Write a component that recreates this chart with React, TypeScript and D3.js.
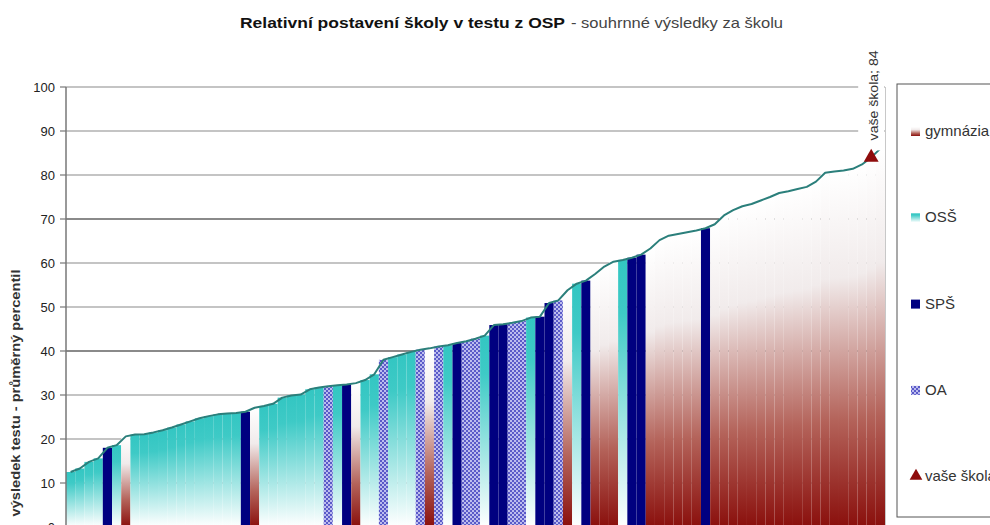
import React, { useRef, useEffect } from 'react';
import * as d3 from 'd3';

// school types in the order of the chart (sorted by score)
const schoolTypes: string[] = [
  'OSS', 'OSS', 'OSS', 'OSS', 'SPS', 'OSS', 'GYM', 'OSS', 'OSS', 'OSS',
  'OSS', 'OSS', 'OSS', 'OSS', 'OSS', 'OSS', 'OSS', 'OSS', 'OSS', 'SPS',
  'GYM', 'OSS', 'OSS', 'OSS', 'OSS', 'OSS', 'OSS', 'OSS', 'OA', 'OSS',
  'SPS', 'GYM', 'OSS', 'OSS', 'OA', 'OSS', 'OSS', 'OSS', 'OA', 'GYM',
  'OA', 'OSS', 'SPS', 'OA', 'OA', 'OSS', 'SPS', 'SPS', 'OA', 'OA',
  'OSS', 'SPS', 'SPS', 'OA', 'GYM', 'OSS', 'SPS', 'GYM', 'GYM', 'GYM',
  'OSS', 'SPS', 'SPS', 'GYM', 'GYM', 'GYM', 'GYM', 'GYM', 'GYM', 'SPS',
  'GYM', 'GYM', 'GYM', 'GYM', 'GYM', 'GYM', 'GYM', 'GYM', 'GYM', 'GYM',
  'GYM', 'GYM', 'GYM', 'GYM', 'GYM', 'GYM', 'GYM', 'GYM', 'GYM'
];

const scores: number[] = [
  12.5, 13.3, 14.8, 15.6, 18.0, 18.6, 20.6, 21.0, 21.1, 21.5,
  22.0, 22.6, 23.3, 24.0, 24.7, 25.2, 25.6, 25.8, 25.9, 26.2,
  27.1, 27.5, 28.0, 29.4, 29.9, 30.1, 31.3, 31.7, 32.0, 32.2,
  32.4, 32.7, 33.4, 34.7, 38.0, 38.6, 39.2, 39.8, 40.3, 40.6,
  41.0, 41.3, 41.8, 42.2, 42.8, 43.5, 45.9, 46.1, 46.4, 46.8,
  47.6, 47.8, 50.9, 51.5, 53.8, 55.3, 56.0, 57.5, 59.2, 60.3,
  60.7, 61.2, 61.9, 63.3, 65.2, 66.2, 66.6, 67.0, 67.4, 67.9,
  68.8, 70.8, 72.0, 72.9, 73.4, 74.2, 75.0, 75.9, 76.3, 76.8,
  77.3, 78.5, 80.5, 80.8, 81.0, 81.4, 82.4, 84.0, 86.0
];

const yourSchoolIndex = 87;
const yourSchoolLabel = 'vaše škola';

const yTicks: number[] = [0, 10, 20, 30, 40, 50, 60, 70, 80, 90, 100];
const thickGrid: number[] = [40, 70];

const legendKeys: string[] = ['GYM', 'OSS', 'SPS', 'OA', 'YOU'];
const legendLabels: string[] = ['gymnázia', 'OSŠ', 'SPŠ', 'OA', 'vaše škola'];

const titleBold = 'Relativní postavení školy v testu z OSP';
const titleRest = '- souhrnné výsledky za školu';
const yAxisTitle = 'výsledek testu - průměrný percentil';

const FONT = '"Liberation Sans", Arial, sans-serif';

const fills: Record<string, string> = {
  GYM: 'url(#grad-gym)',
  OSS: 'url(#grad-oss)',
  SPS: '#000080',
  OA: 'url(#pat-oa)'
};

const App: React.FC = () => {
  const svgRef = useRef<SVGSVGElement>(null);
  const width = 990;
  const height = 525;

  useEffect(() => {
    if (!svgRef.current) return;
    const svg = d3.select(svgRef.current);
    svg.selectAll('*').remove();

    const left = 66;
    const right = 885;
    const top = 87;
    const bottom = 527;

    const x = d3.scaleBand<number>()
      .domain(d3.range(scores.length))
      .range([left, right])
      .padding(0);

    const y = d3.scaleLinear().domain([0, 100]).range([bottom, top]);

    // defs: gradients + pattern
    const defs = svg.append('defs');
    const gym = defs.append('linearGradient').attr('id', 'grad-gym')
      .attr('x1', 0).attr('y1', 0).attr('x2', 0).attr('y2', 1);
    [[0, '#ffffff'], [0.3, '#f1ebeb'], [0.7, '#b4635a'], [1, '#8a0f0c']].forEach(([o, c]) => {
      gym.append('stop').attr('offset', o as number).attr('stop-color', c as string);
    });
    const oss = defs.append('linearGradient').attr('id', 'grad-oss')
      .attr('x1', 0).attr('y1', 0).attr('x2', 0).attr('y2', 1);
    [[0, '#33c6c2'], [0.2, '#3ecac6'], [1, '#ffffff']].forEach(([o, c]) => {
      oss.append('stop').attr('offset', o as number).attr('stop-color', c as string);
    });
    const pat = defs.append('pattern').attr('id', 'pat-oa')
      .attr('patternUnits', 'userSpaceOnUse').attr('width', 4).attr('height', 4);
    pat.append('rect').attr('width', 4).attr('height', 4).attr('fill', '#bcbcee');
    pat.append('rect').attr('width', 2).attr('height', 2).attr('fill', '#5a5ac8');
    pat.append('rect').attr('x', 2).attr('y', 2).attr('width', 2).attr('height', 2).attr('fill', '#5a5ac8');

    svg.append('rect').attr('width', width).attr('height', height).attr('fill', '#ffffff');

    // Title
    svg.append('text')
      .attr('x', 240).attr('y', 28)
      .attr('textLength', 325).attr('lengthAdjust', 'spacingAndGlyphs')
      .style('font-family', FONT).style('font-size', '15px').style('font-weight', 'bold')
      .style('fill', '#111')
      .text(titleBold);
    svg.append('text')
      .attr('x', 571).attr('y', 28)
      .attr('textLength', 212).attr('lengthAdjust', 'spacingAndGlyphs')
      .style('font-family', FONT).style('font-size', '15px')
      .style('fill', '#444')
      .text(titleRest);

    // Grid lines
    const grid = svg.append('g');
    yTicks.filter(t => t > 0).forEach(t => {
      grid.append('line')
        .attr('x1', left).attr('x2', right)
        .attr('y1', y(t)).attr('y2', y(t))
        .style('stroke', '#8a8a8a')
        .style('stroke-width', thickGrid.includes(t) ? 2.2 : 1.2);
    });

    // Bars
    svg.append('g')
      .selectAll('rect')
      .data(scores)
      .join('rect')
      .attr('x', (_, i) => x(i)!)
      .attr('width', x.bandwidth())
      .attr('y', d => y(d))
      .attr('height', d => y(0) - y(d))
      .attr('fill', (_, i) => fills[schoolTypes[i]]);

    // Line
    const line = d3.line<number>()
      .x((_, i) => x(i)! + x.bandwidth() / 2)
      .y(d => y(d));
    svg.append('path')
      .datum(scores)
      .attr('d', line)
      .style('fill', 'none')
      .style('stroke', '#2b7f7b')
      .style('stroke-width', 2)
      .style('stroke-linejoin', 'round');

    // Y axis
    svg.append('line')
      .attr('x1', left).attr('x2', left)
      .attr('y1', top).attr('y2', bottom)
      .style('stroke', '#777').style('stroke-width', 1.5);
    svg.append('line')
      .attr('x1', right + 0.5).attr('x2', right + 0.5)
      .attr('y1', top).attr('y2', bottom)
      .style('stroke', '#c8c8c8').style('stroke-width', 1);
    const ticks = svg.append('g');
    yTicks.forEach(t => {
      ticks.append('line')
        .attr('x1', left - 6).attr('x2', left)
        .attr('y1', y(t)).attr('y2', y(t))
        .style('stroke', '#777').style('stroke-width', 1.2);
      ticks.append('text')
        .attr('x', 55).attr('y', y(t)).attr('dy', '0.36em')
        .attr('text-anchor', 'end')
        .style('font-family', FONT).style('font-size', '13px')
        .style('fill', '#222')
        .text(t);
    });

    svg.append('text')
      .attr('transform', `translate(20,${(top + bottom) / 2 + 86}) rotate(-90)`)
      .attr('text-anchor', 'middle')
      .attr('textLength', 247).attr('lengthAdjust', 'spacingAndGlyphs')
      .style('font-family', FONT).style('font-size', '13px').style('font-weight', 'bold')
      .style('fill', '#333')
      .text(yAxisTitle);

    // Your school marker + label
    const yx = x(yourSchoolIndex)! + x.bandwidth() / 2;
    const yv = scores[yourSchoolIndex];
    svg.append('rect')
      .attr('x', yx - 13).attr('y', 45)
      .attr('width', 26).attr('height', y(yv) - 52)
      .attr('fill', '#ffffff');
    svg.append('text')
      .attr('transform', `translate(${yx + 7},${y(yv) - 17}) rotate(-90)`)
      .attr('textLength', 90).attr('lengthAdjust', 'spacingAndGlyphs')
      .style('font-family', FONT).style('font-size', '12px')
      .style('fill', '#333')
      .text(`${yourSchoolLabel}; ${Math.round(yv)}`);
    svg.append('path')
      .attr('d', d3.symbol().type(d3.symbolTriangle).size(95)())
      .attr('transform', `translate(${yx},${y(yv)})`)
      .attr('fill', '#8e0c0c');

    // Legend
    const legend = svg.append('g');
    legend.append('rect')
      .attr('x', 897).attr('y', 84)
      .attr('width', 120).attr('height', 433)
      .attr('fill', '#ffffff')
      .style('stroke', '#555').style('stroke-width', 1);
    legendKeys.forEach((k, i) => {
      const ly = 136 + i * 86.3;
      if (k === 'YOU') {
        legend.append('path')
          .attr('d', d3.symbol().type(d3.symbolTriangle).size(70)())
          .attr('transform', `translate(916,${ly - 5})`)
          .attr('fill', '#8e0c0c');
      } else {
        legend.append('rect')
          .attr('x', 911).attr('y', ly - 9)
          .attr('width', 9).attr('height', 9)
          .attr('fill', fills[k]);
      }
      legend.append('text')
        .attr('x', 925).attr('y', ly)
        .style('font-family', FONT).style('font-size', '15px')
        .style('fill', '#333')
        .text(legendLabels[i]);
    });
  }, []);

  return (
    <svg
      ref={svgRef}
      width={width}
      height={height}
      style={{ position: 'absolute', left: 0, top: 0, display: 'block' }}
    />
  );
};

export default App;
